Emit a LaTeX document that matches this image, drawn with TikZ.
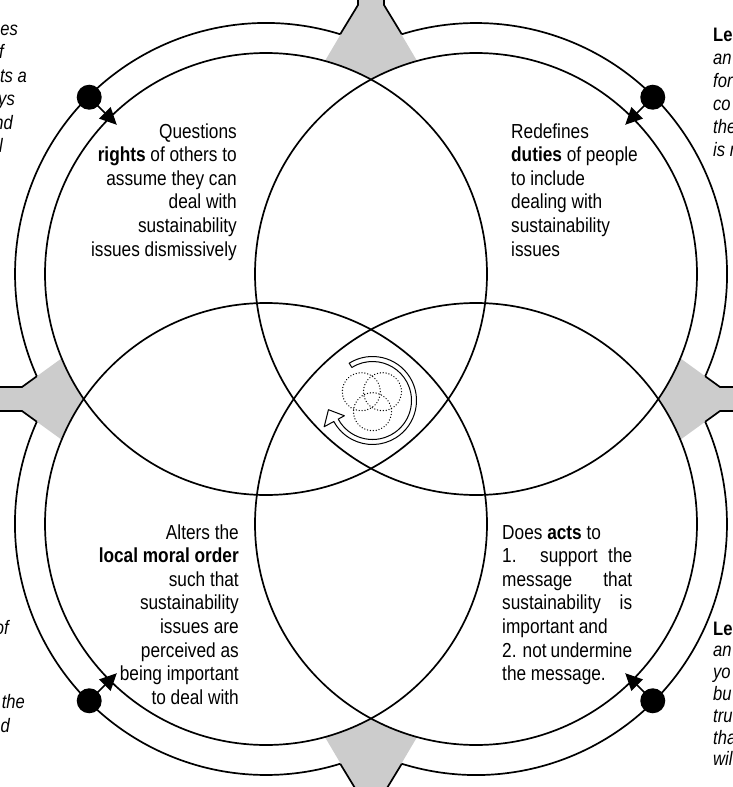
\documentclass[tikz,border=0pt]{standalone}
\usepackage{fontspec}
\setmainfont{Liberation Sans}[FakeStretch=0.85]
\usetikzlibrary{calc,arrows.meta}
\definecolor{funnel}{RGB}{204,204,204}
\tikzset{
  ring/.style={line width=1.7pt},
  grayfill/.style={fill=funnel},
  radial/.style={line width=1.7pt,-{Triangle[length=17pt,width=16pt]}},
  dotmark/.style={fill=black},
  icondot/.style={line width=1.4pt,line cap=round,dash pattern=on 0.01pt off 2.9pt},
  iconline/.style={line width=1pt},
  maintext/.style={font=\fontsize{20.3}{23.6}\selectfont,inner sep=0pt},
  sidetext/.style={font=\fontsize{19.5}{22}\selectfont\itshape,inner sep=0pt},
  sidebold/.style={font=\fontsize{19.5}{22}\selectfont\bfseries,inner sep=0pt}
}
\begin{document}
\begin{tikzpicture}[x=1pt,y=1pt,line join=round]
\useasboundingbox (0,0) rectangle (733,-787);
\clip (0,0) rectangle (733,-787);
% circle centres
\coordinate (c1) at (266,-274);
\coordinate (c2) at (476,-274);
\coordinate (c3) at (266,-524);
\coordinate (c4) at (476,-524);
% outer arc end points
\coordinate (tA) at ($(c1)+(72.8:251)$);
\coordinate (tB) at ($(c2)+(107.2:251)$);
\coordinate (lA) at ($(c1)+(204.05:251)$);
\coordinate (lB) at ($(c3)+(155.95:251)$);
\coordinate (rA) at ($(c2)+(-24.05:251)$);
\coordinate (rB) at ($(c4)+(24.05:251)$);
\coordinate (bA) at ($(c3)+(287.2:251)$);
\coordinate (bB) at ($(c4)+(252.8:251)$);
% gray funnels
\fill[grayfill] (358,20) -- (358,-5) -- (293,-115) -- (449,-115) -- (384,-5) -- (384,20) -- cycle;
\fill[grayfill] (358,-807) -- (358,-793) -- (293,-683) -- (449,-683) -- (384,-793) -- (384,-807) -- cycle;
\fill[grayfill] (-20,-387) -- (22,-387) -- (117,-318.25) -- (117,-479.75) -- (22,-411) -- (-20,-411) -- cycle;
\fill[grayfill] (753,-387) -- (720,-387) -- (625,-318.25) -- (625,-479.75) -- (720,-411) -- (753,-411) -- cycle;
% circles
\foreach \c in {c1,c2,c3,c4} \fill[white] (\c) circle[radius=221];
\foreach \c in {c1,c2,c3,c4} \draw[ring] (\c) circle[radius=221];
% outer arcs
\draw[ring] (tA) arc[start angle=72.8,end angle=204.05,radius=251];
\draw[ring] (rA) arc[start angle=-24.05,end angle=107.2,radius=251];
\draw[ring] (lB) arc[start angle=155.95,end angle=287.2,radius=251];
\draw[ring] (bB) arc[start angle=252.8,end angle=384.05,radius=251];
% funnel outlines
\draw[ring] (358,20) -- (358,-5) -- (tA);
\draw[ring] (384,20) -- (384,-5) -- (tB);
\draw[ring] (-20,-387) -- (22,-387) -- (lA);
\draw[ring] (-20,-411) -- (22,-411) -- (lB);
\draw[ring] (753,-387) -- (720,-387) -- (rA);
\draw[ring] (753,-411) -- (720,-411) -- (rB);
\draw[ring] (358,-807) -- (358,-793) -- (bA);
\draw[ring] (384,-807) -- (384,-793) -- (bB);
% dots and radial arrows
\foreach \c/\a in {c1/135,c2/45,c3/225,c4/315}{
  \coordinate (d\c) at ($(\c)+(\a:250)$);
  \coordinate (p\c) at ($(\c)+(\a:211)$);
  \fill[dotmark] (d\c) circle[radius=12.5];
  \draw[radial] (d\c) -- (p\c);
}
% central icon
\coordinate (O) at (372.5,-400.5);
\draw[icondot] (361.3,-391.7) circle[radius=19];
\draw[icondot] (382.5,-391.7) circle[radius=19];
\draw[icondot] (372.5,-411.7) circle[radius=19];
\draw[iconline] ($(O)+(122:44)$) arc[start angle=122,end angle=-151.5,radius=44]
  -- ($(O)+(208.5:55)$) -- ($(O)+(191.8:45)$) -- ($(O)+(208.5:32)$)
  -- ($(O)+(208.5:39)$) arc[start angle=-151.5,end angle=122,radius=39] -- cycle;
% main texts
\foreach \t [count=\i] in {Questions,{\textbf{rights} of others to},assume they can,deal with,sustainability,issues dismissively}
  \node[maintext,anchor=base east] (tl\i) at (237,{-138-23.6*(\i-1)}) {\t};
\foreach \t [count=\i] in {Redefines,{\textbf{duties} of people},to include,dealing with,sustainability,issues}
  \node[maintext,anchor=base west] (tr\i) at (511,{-138-23.6*(\i-1)}) {\t};
\foreach \t [count=\i] in {Alters the,{\textbf{local moral order}},such that,sustainability,issues are,perceived as,being important,to deal with}
  \node[maintext,anchor=base east] (bl\i) at (239,{-539-23.6*(\i-1)}) {\t};
\foreach \t [count=\i] in {{Does \textbf{acts} to},{\makebox[130pt][s]{1. support the}},{\makebox[130pt][s]{message that}},{\makebox[130pt][s]{sustainability is}},important and,{\makebox[130pt][s]{2. not undermine}},the message.}
  \node[maintext,anchor=base west] (br\i) at (502,{-539-23.6*(\i-1)}) {\t};
% side fragments
\foreach \t/\x/\i in {es/18/0,f/4/1,ts a/27/2,ys/15/3,nd/13/4,l/3/5}
  \node[sidetext,anchor=base east] (lt\i) at (\x,{-35-23.5*\i}) {\t};
\node[sidebold,anchor=base west] (rt0) at (713,-41.5) {Le};
\foreach \t/\i in {an/1,for/2,co/3,the/4,is n/5}
  \node[sidetext,anchor=base west] (rt\i) at (713,{-41.5-23*\i}) {\t};
\node[sidebold,anchor=base west] (rb0) at (713,-635) {Le};
\foreach \t/\i in {an/1,yo/2,bu/3,tru/4,tha/5,wil/6}
  \node[sidetext,anchor=base west] (rb\i) at (713,{-635-21.8*\i}) {\t};
\node[sidetext,anchor=base east] (lb1) at (9,-634) {of};
\node[sidetext,anchor=base east] (lb2) at (25,-708) {the};
\node[sidetext,anchor=base east] (lb3) at (10,-732) {d};
\end{tikzpicture}
\end{document}
